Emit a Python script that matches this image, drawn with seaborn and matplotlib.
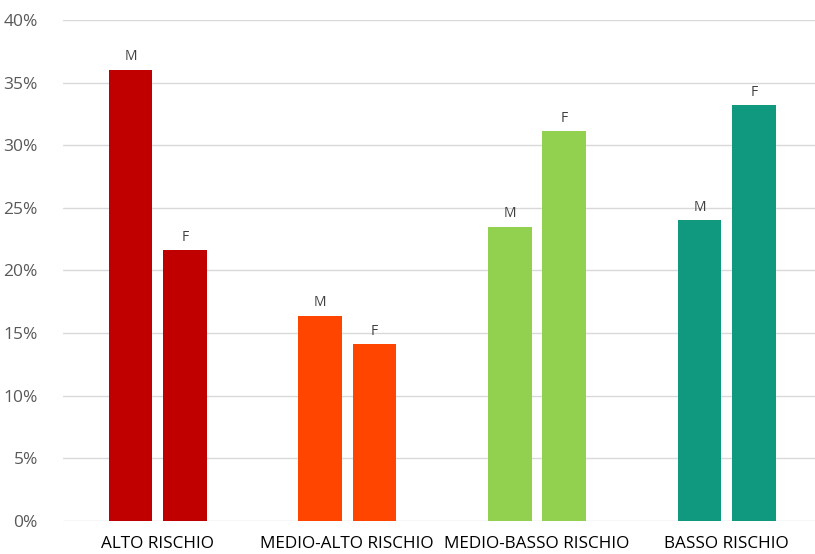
import matplotlib
matplotlib.use("Agg")
import matplotlib.pyplot as plt
import seaborn as sns
import pandas as pd
from matplotlib.ticker import PercentFormatter, MultipleLocator

categories = ["ALTO RISCHIO", "MEDIO-ALTO RISCHIO", "MEDIO-BASSO RISCHIO", "BASSO RISCHIO"]
sexes = ["M", "F"]
values_m = [0.360, 0.164, 0.235, 0.240]
values_f = [0.216, 0.141, 0.311, 0.332]
colors = ["#C00000", "#FF4500", "#92D050", "#10997F"]

df = pd.DataFrame({
    "categoria": categories * 2,
    "sesso": ["M"] * len(categories) + ["F"] * len(categories),
    "valore": values_m + values_f,
})

sns.set_theme(style="white")
plt.rcParams["font.family"] = ["Open Sans", "DejaVu Sans"]

fig = plt.figure(figsize=(8.15, 5.54), dpi=100)
ax = fig.add_axes([0.077, 0.0596, 0.931, 0.9044])

sns.barplot(data=df, x="categoria", y="valore", hue="sesso", hue_order=sexes,
            order=categories, width=0.574, gap=0.2, legend=False, ax=ax,
            saturation=1)

# colour every bar by its risk class, and label it with the sex
for container, sex in zip(ax.containers, sexes):
    for bar, col in zip(container, colors):
        bar.set_facecolor(col)
        bar.set_edgecolor("none")
    ax.bar_label(container, labels=[sex] * len(container), padding=4,
                 fontsize=10, color="#404040")

ax.set_ylim(0, 0.40)
ax.set_xlim(-0.5, len(categories) - 0.5)
ax.yaxis.set_major_locator(MultipleLocator(0.05))
ax.yaxis.set_major_formatter(PercentFormatter(1.0, decimals=0))
ax.grid(axis="y", color="#D9D9D9", linewidth=1)
ax.set_axisbelow(True)
for s in ax.spines.values():
    s.set_visible(False)
ax.set_xlabel("")
ax.set_ylabel("")
ax.tick_params(axis="y", labelsize=12.5, labelcolor="#595959", length=0, pad=18)
ax.tick_params(axis="x", labelsize=12.3, labelcolor="#000000", length=0, pad=11)

fig.savefig("out.png", dpi=100, facecolor="white")
